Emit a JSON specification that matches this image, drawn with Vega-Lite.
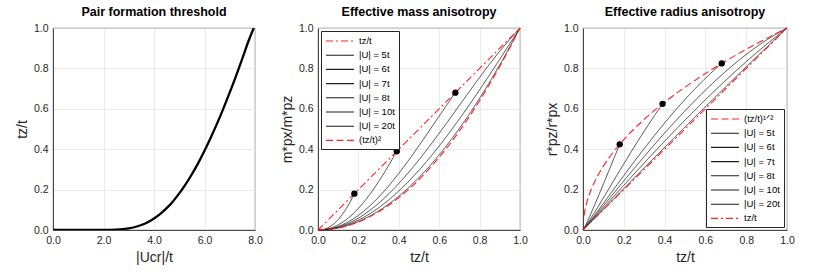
{
  "$schema": "https://vega.github.io/schema/vega-lite/v6.json",
  "padding": {"left": 15, "top": 5, "right": 3, "bottom": 5},
  "bounds": "flush",
  "spacing": 63,
  "config": {
    "font": "Liberation Sans",
    "view": {"stroke": "#262626", "strokeWidth": 0.8},
    "axis": {
      "grid": true, "gridColor": "#e4e4e4", "gridWidth": 0.8,
      "domainColor": "#262626", "domainWidth": 0.8, "ticks": false,
      "labelFont": "Liberation Sans", "labelFontSize": 10.5, "labelColor": "#262626", "labelPadding": 5, "labelFlush": false,
      "titleFont": "Liberation Sans", "titleFontSize": 14, "titleFontWeight": "normal", "titleColor": "#262626"
    },
    "axisX": {"titlePadding": 5},
    "axisY": {"titlePadding": 4},
    "legend": {
      "labelFont": "Liberation Sans", "labelFontSize": 9.5, "labelColor": "#000",
      "symbolType": "M-1,0H4.6", "symbolSize": 100, "symbolStrokeWidth": 1.1,
      "strokeColor": "#262626", "fillColor": "white", "padding": 4, "rowPadding": 3.2, "labelOffset": 22, "offset": 3, "cornerRadius": 0
    },
    "title": {"font": "Liberation Sans", "fontSize": 12.5, "fontWeight": "bold", "color": "#000", "offset": 5}
  },
  "datasets": {
    "thr": [
      {"U": 0, "tz": 0}, {"U": 0.5, "tz": 0}, {"U": 1.0, "tz": 0}, {"U": 1.5, "tz": 0}, {"U": 2.0, "tz": 0.0002},
      {"U": 2.5, "tz": 0.0018}, {"U": 3.0, "tz": 0.0082}, {"U": 3.25, "tz": 0.0149}, {"U": 3.5, "tz": 0.0248},
      {"U": 3.75, "tz": 0.0385}, {"U": 4.0, "tz": 0.0567}, {"U": 4.25, "tz": 0.0797}, {"U": 4.5, "tz": 0.108},
      {"U": 4.75, "tz": 0.1417}, {"U": 5.0, "tz": 0.181}, {"U": 5.25, "tz": 0.2256}, {"U": 5.5, "tz": 0.2758},
      {"U": 5.75, "tz": 0.3312}, {"U": 6.0, "tz": 0.392}, {"U": 6.25, "tz": 0.4575}, {"U": 6.5, "tz": 0.5278},
      {"U": 6.75, "tz": 0.6023}, {"U": 7.0, "tz": 0.681}, {"U": 7.25, "tz": 0.763}, {"U": 7.5, "tz": 0.8496},
      {"U": 7.75, "tz": 0.938}, {"U": 7.95, "tz": 1.0}
    ],
    "bref": [
      {"series": "1 tz/t", "tz": 0, "v": 0}, {"series": "1 tz/t", "tz": 0.5, "v": 0.5}, {"series": "1 tz/t", "tz": 1, "v": 1},
      {"series": "8 (tz/t)²", "tz": 0, "v": 0}, {"series": "8 (tz/t)²", "tz": 0.1, "v": 0.01},
      {"series": "8 (tz/t)²", "tz": 0.2, "v": 0.04}, {"series": "8 (tz/t)²", "tz": 0.3, "v": 0.09},
      {"series": "8 (tz/t)²", "tz": 0.4, "v": 0.16}, {"series": "8 (tz/t)²", "tz": 0.5, "v": 0.25},
      {"series": "8 (tz/t)²", "tz": 0.6, "v": 0.36}, {"series": "8 (tz/t)²", "tz": 0.7, "v": 0.49},
      {"series": "8 (tz/t)²", "tz": 0.8, "v": 0.64}, {"series": "8 (tz/t)²", "tz": 0.9, "v": 0.81},
      {"series": "8 (tz/t)²", "tz": 1, "v": 1}
    ],
    "bcurve": [
      {"series": "2 |U| = 5t", "tz": 0, "v": 0}, {"series": "2 |U| = 5t", "tz": 0.02, "v": 0.0015}, {"series": "2 |U| = 5t", "tz": 0.04, "v": 0.007},
      {"series": "2 |U| = 5t", "tz": 0.06, "v": 0.0171}, {"series": "2 |U| = 5t", "tz": 0.08, "v": 0.032}, {"series": "2 |U| = 5t", "tz": 0.1, "v": 0.0519},
      {"series": "2 |U| = 5t", "tz": 0.12, "v": 0.0767}, {"series": "2 |U| = 5t", "tz": 0.14, "v": 0.1064}, {"series": "2 |U| = 5t", "tz": 0.16, "v": 0.1409},
      {"series": "2 |U| = 5t", "tz": 0.18, "v": 0.18},
      {"series": "3 |U| = 6t", "tz": 0, "v": 0}, {"series": "3 |U| = 6t", "tz": 0.05, "v": 0.0058}, {"series": "3 |U| = 6t", "tz": 0.1, "v": 0.0254},
      {"series": "3 |U| = 6t", "tz": 0.15, "v": 0.0593}, {"series": "3 |U| = 6t", "tz": 0.2, "v": 0.1072}, {"series": "3 |U| = 6t", "tz": 0.25, "v": 0.1677},
      {"series": "3 |U| = 6t", "tz": 0.3, "v": 0.2393}, {"series": "3 |U| = 6t", "tz": 0.35, "v": 0.3202}, {"series": "3 |U| = 6t", "tz": 0.39, "v": 0.39},
      {"series": "4 |U| = 7t", "tz": 0, "v": 0}, {"series": "4 |U| = 7t", "tz": 0.05, "v": 0.0041}, {"series": "4 |U| = 7t", "tz": 0.1, "v": 0.0174},
      {"series": "4 |U| = 7t", "tz": 0.15, "v": 0.0404}, {"series": "4 |U| = 7t", "tz": 0.2, "v": 0.0726}, {"series": "4 |U| = 7t", "tz": 0.25, "v": 0.1136},
      {"series": "4 |U| = 7t", "tz": 0.3, "v": 0.1625}, {"series": "4 |U| = 7t", "tz": 0.35, "v": 0.2184}, {"series": "4 |U| = 7t", "tz": 0.4, "v": 0.2804},
      {"series": "4 |U| = 7t", "tz": 0.45, "v": 0.3472}, {"series": "4 |U| = 7t", "tz": 0.5, "v": 0.4176}, {"series": "4 |U| = 7t", "tz": 0.55, "v": 0.4903},
      {"series": "4 |U| = 7t", "tz": 0.6, "v": 0.564}, {"series": "4 |U| = 7t", "tz": 0.65, "v": 0.6371}, {"series": "4 |U| = 7t", "tz": 0.68, "v": 0.68},
      {"series": "5 |U| = 8t", "tz": 0, "v": 0}, {"series": "5 |U| = 8t", "tz": 0.05, "v": 0.0034}, {"series": "5 |U| = 8t", "tz": 0.1, "v": 0.0143},
      {"series": "5 |U| = 8t", "tz": 0.2, "v": 0.059}, {"series": "5 |U| = 8t", "tz": 0.3, "v": 0.1323}, {"series": "5 |U| = 8t", "tz": 0.4, "v": 0.2302},
      {"series": "5 |U| = 8t", "tz": 0.5, "v": 0.3477}, {"series": "5 |U| = 8t", "tz": 0.6, "v": 0.4789}, {"series": "5 |U| = 8t", "tz": 0.7, "v": 0.6171},
      {"series": "5 |U| = 8t", "tz": 0.8, "v": 0.7552}, {"series": "5 |U| = 8t", "tz": 0.9, "v": 0.8855}, {"series": "5 |U| = 8t", "tz": 1, "v": 1},
      {"series": "6 |U| = 10t", "tz": 0, "v": 0}, {"series": "6 |U| = 10t", "tz": 0.05, "v": 0.0029}, {"series": "6 |U| = 10t", "tz": 0.1, "v": 0.012},
      {"series": "6 |U| = 10t", "tz": 0.2, "v": 0.0489}, {"series": "6 |U| = 10t", "tz": 0.3, "v": 0.1099}, {"series": "6 |U| = 10t", "tz": 0.4, "v": 0.193},
      {"series": "6 |U| = 10t", "tz": 0.5, "v": 0.296}, {"series": "6 |U| = 10t", "tz": 0.6, "v": 0.4159}, {"series": "6 |U| = 10t", "tz": 0.7, "v": 0.5498},
      {"series": "6 |U| = 10t", "tz": 0.8, "v": 0.6942}, {"series": "6 |U| = 10t", "tz": 0.9, "v": 0.8455}, {"series": "6 |U| = 10t", "tz": 1, "v": 1},
      {"series": "7 |U| = 20t", "tz": 0, "v": 0}, {"series": "7 |U| = 20t", "tz": 0.05, "v": 0.0026}, {"series": "7 |U| = 20t", "tz": 0.1, "v": 0.0105},
      {"series": "7 |U| = 20t", "tz": 0.2, "v": 0.042}, {"series": "7 |U| = 20t", "tz": 0.3, "v": 0.0944}, {"series": "7 |U| = 20t", "tz": 0.4, "v": 0.1673},
      {"series": "7 |U| = 20t", "tz": 0.5, "v": 0.2602}, {"series": "7 |U| = 20t", "tz": 0.6, "v": 0.3724}, {"series": "7 |U| = 20t", "tz": 0.7, "v": 0.5033},
      {"series": "7 |U| = 20t", "tz": 0.8, "v": 0.652}, {"series": "7 |U| = 20t", "tz": 0.9, "v": 0.8179}, {"series": "7 |U| = 20t", "tz": 1, "v": 1}
    ],
    "bdots": [{"tz": 0.18, "v": 0.18}, {"tz": 0.39, "v": 0.39}, {"tz": 0.68, "v": 0.68}],
    "cref": [
      {"series": "8 tz/t", "tz": 0, "v": 0}, {"series": "8 tz/t", "tz": 0.5, "v": 0.5}, {"series": "8 tz/t", "tz": 1, "v": 1},
      {"series": "1 (tz/t)¹ᐟ²", "tz": 0.005, "v": 0.0707}, {"series": "1 (tz/t)¹ᐟ²", "tz": 0.01, "v": 0.1},
      {"series": "1 (tz/t)¹ᐟ²", "tz": 0.02, "v": 0.1414}, {"series": "1 (tz/t)¹ᐟ²", "tz": 0.03, "v": 0.1732},
      {"series": "1 (tz/t)¹ᐟ²", "tz": 0.05, "v": 0.2236}, {"series": "1 (tz/t)¹ᐟ²", "tz": 0.1, "v": 0.3162},
      {"series": "1 (tz/t)¹ᐟ²", "tz": 0.15, "v": 0.3873}, {"series": "1 (tz/t)¹ᐟ²", "tz": 0.2, "v": 0.4472},
      {"series": "1 (tz/t)¹ᐟ²", "tz": 0.3, "v": 0.5477}, {"series": "1 (tz/t)¹ᐟ²", "tz": 0.4, "v": 0.6325},
      {"series": "1 (tz/t)¹ᐟ²", "tz": 0.5, "v": 0.7071}, {"series": "1 (tz/t)¹ᐟ²", "tz": 0.6, "v": 0.7746},
      {"series": "1 (tz/t)¹ᐟ²", "tz": 0.7, "v": 0.8367}, {"series": "1 (tz/t)¹ᐟ²", "tz": 0.8, "v": 0.8944},
      {"series": "1 (tz/t)¹ᐟ²", "tz": 0.9, "v": 0.9487}, {"series": "1 (tz/t)¹ᐟ²", "tz": 1, "v": 1}
    ],
    "ccurve": [
      {"series": "2 |U| = 5t", "tz": 0, "v": 0}, {"series": "2 |U| = 5t", "tz": 0.02, "v": 0.0391}, {"series": "2 |U| = 5t", "tz": 0.04, "v": 0.0839},
      {"series": "2 |U| = 5t", "tz": 0.06, "v": 0.1308}, {"series": "2 |U| = 5t", "tz": 0.08, "v": 0.1789}, {"series": "2 |U| = 5t", "tz": 0.1, "v": 0.2279},
      {"series": "2 |U| = 5t", "tz": 0.12, "v": 0.277}, {"series": "2 |U| = 5t", "tz": 0.14, "v": 0.3262}, {"series": "2 |U| = 5t", "tz": 0.16, "v": 0.3754},
      {"series": "2 |U| = 5t", "tz": 0.18, "v": 0.4243},
      {"series": "3 |U| = 6t", "tz": 0, "v": 0}, {"series": "3 |U| = 6t", "tz": 0.05, "v": 0.0761}, {"series": "3 |U| = 6t", "tz": 0.1, "v": 0.1592},
      {"series": "3 |U| = 6t", "tz": 0.15, "v": 0.2436}, {"series": "3 |U| = 6t", "tz": 0.2, "v": 0.3274}, {"series": "3 |U| = 6t", "tz": 0.25, "v": 0.4095},
      {"series": "3 |U| = 6t", "tz": 0.3, "v": 0.4892}, {"series": "3 |U| = 6t", "tz": 0.35, "v": 0.5658}, {"series": "3 |U| = 6t", "tz": 0.39, "v": 0.6245},
      {"series": "4 |U| = 7t", "tz": 0, "v": 0}, {"series": "4 |U| = 7t", "tz": 0.05, "v": 0.064}, {"series": "4 |U| = 7t", "tz": 0.1, "v": 0.1321},
      {"series": "4 |U| = 7t", "tz": 0.15, "v": 0.201}, {"series": "4 |U| = 7t", "tz": 0.2, "v": 0.2694}, {"series": "4 |U| = 7t", "tz": 0.25, "v": 0.337},
      {"series": "4 |U| = 7t", "tz": 0.3, "v": 0.4031}, {"series": "4 |U| = 7t", "tz": 0.35, "v": 0.4673}, {"series": "4 |U| = 7t", "tz": 0.4, "v": 0.5295},
      {"series": "4 |U| = 7t", "tz": 0.45, "v": 0.5893}, {"series": "4 |U| = 7t", "tz": 0.5, "v": 0.6462}, {"series": "4 |U| = 7t", "tz": 0.55, "v": 0.7002},
      {"series": "4 |U| = 7t", "tz": 0.6, "v": 0.751}, {"series": "4 |U| = 7t", "tz": 0.65, "v": 0.7982}, {"series": "4 |U| = 7t", "tz": 0.68, "v": 0.8246},
      {"series": "5 |U| = 8t", "tz": 0, "v": 0}, {"series": "5 |U| = 8t", "tz": 0.05, "v": 0.0585}, {"series": "5 |U| = 8t", "tz": 0.1, "v": 0.1198},
      {"series": "5 |U| = 8t", "tz": 0.2, "v": 0.2429}, {"series": "5 |U| = 8t", "tz": 0.3, "v": 0.3637}, {"series": "5 |U| = 8t", "tz": 0.4, "v": 0.4798},
      {"series": "5 |U| = 8t", "tz": 0.5, "v": 0.5897}, {"series": "5 |U| = 8t", "tz": 0.6, "v": 0.692}, {"series": "5 |U| = 8t", "tz": 0.7, "v": 0.7856},
      {"series": "5 |U| = 8t", "tz": 0.8, "v": 0.869}, {"series": "5 |U| = 8t", "tz": 0.9, "v": 0.941}, {"series": "5 |U| = 8t", "tz": 1, "v": 1},
      {"series": "6 |U| = 10t", "tz": 0, "v": 0}, {"series": "6 |U| = 10t", "tz": 0.05, "v": 0.0542}, {"series": "6 |U| = 10t", "tz": 0.1, "v": 0.1097},
      {"series": "6 |U| = 10t", "tz": 0.2, "v": 0.2212}, {"series": "6 |U| = 10t", "tz": 0.3, "v": 0.3316}, {"series": "6 |U| = 10t", "tz": 0.4, "v": 0.4393},
      {"series": "6 |U| = 10t", "tz": 0.5, "v": 0.544}, {"series": "6 |U| = 10t", "tz": 0.6, "v": 0.6449}, {"series": "6 |U| = 10t", "tz": 0.7, "v": 0.7415},
      {"series": "6 |U| = 10t", "tz": 0.8, "v": 0.8332}, {"series": "6 |U| = 10t", "tz": 0.9, "v": 0.9195}, {"series": "6 |U| = 10t", "tz": 1, "v": 1},
      {"series": "7 |U| = 20t", "tz": 0, "v": 0}, {"series": "7 |U| = 20t", "tz": 0.05, "v": 0.051}, {"series": "7 |U| = 20t", "tz": 0.1, "v": 0.1022},
      {"series": "7 |U| = 20t", "tz": 0.2, "v": 0.2049}, {"series": "7 |U| = 20t", "tz": 0.3, "v": 0.3073}, {"series": "7 |U| = 20t", "tz": 0.4, "v": 0.409},
      {"series": "7 |U| = 20t", "tz": 0.5, "v": 0.5101}, {"series": "7 |U| = 20t", "tz": 0.6, "v": 0.6103}, {"series": "7 |U| = 20t", "tz": 0.7, "v": 0.7094},
      {"series": "7 |U| = 20t", "tz": 0.8, "v": 0.8075}, {"series": "7 |U| = 20t", "tz": 0.9, "v": 0.9044}, {"series": "7 |U| = 20t", "tz": 1, "v": 1}
    ],
    "cdots": [{"tz": 0.18, "v": 0.4243}, {"tz": 0.39, "v": 0.6245}, {"tz": 0.68, "v": 0.8246}]
  },
  "hconcat": [
    {
      "width": 202, "height": 202,
      "title": "Pair formation threshold",
      "layer": [
        {
          "data": {"name": "thr"},
          "mark": {"type": "line", "color": "#000", "strokeWidth": 2.3, "interpolate": "monotone", "clip": true},
          "encoding": {
            "x": {"field": "U", "type": "quantitative", "scale": {"domain": [0, 8], "nice": false}, "axis": {"values": [0, 2, 4, 6, 8], "format": ".1f", "title": "|Ucr|/t"}},
            "y": {"field": "tz", "type": "quantitative", "scale": {"domain": [0, 1], "nice": false}, "axis": {"values": [0, 0.2, 0.4, 0.6, 0.8, 1], "format": ".1f", "title": "tz/t"}}
          }
        },
        {
          "mark": {"type": "text", "fontSize": 14, "font": "Liberation Sans", "color": "#000"},
          "encoding": {"x": {"datum": 0.73}, "y": {"datum": 0.89}, "text": {"value": "(a)"}}
        },
        {
          "mark": {"type": "text", "fontSize": 11.5, "font": "Liberation Sans", "color": "#000"},
          "encoding": {"x": {"datum": 1.3}, "y": {"datum": 0.69}, "text": {"value": "No pairs"}}
        },
        {
          "mark": {"type": "text", "fontSize": 11.5, "font": "Liberation Sans", "color": "#000"},
          "encoding": {"x": {"datum": 7.0}, "y": {"datum": 0.24}, "text": {"value": "Pairs"}}
        }
      ]
    },
    {
      "width": 202, "height": 202,
      "title": "Effective mass anisotropy",
      "layer": [
        {
          "data": {"name": "bcurve"},
          "mark": {"type": "line", "strokeWidth": 0.8, "interpolate": "monotone"},
          "encoding": {
            "x": {"field": "tz", "type": "quantitative", "scale": {"domain": [0, 1], "nice": false}, "axis": {"values": [0, 0.2, 0.4, 0.6, 0.8, 1], "format": ".1f", "title": "tz/t"}},
            "y": {"field": "v", "type": "quantitative", "scale": {"domain": [0, 1], "nice": false}, "axis": {"values": [0, 0.2, 0.4, 0.6, 0.8, 1], "format": ".1f", "title": "m*px/m*pz"}},
            "color": {"field": "series", "type": "nominal", "scale": {"domain": ["1 tz/t", "2 |U| = 5t", "3 |U| = 6t", "4 |U| = 7t", "5 |U| = 8t", "6 |U| = 10t", "7 |U| = 20t", "8 (tz/t)²"], "range": ["#ff2020", "#1e1e1e", "#1e1e1e", "#1e1e1e", "#1e1e1e", "#1e1e1e", "#1e1e1e", "#ff2020"]}, "legend": {"orient": "top-left", "title": null, "labelExpr": "substring(datum.label, 2)"}},
            "strokeDash": {"field": "series", "type": "nominal", "scale": {"domain": ["1 tz/t", "2 |U| = 5t", "3 |U| = 6t", "4 |U| = 7t", "5 |U| = 8t", "6 |U| = 10t", "7 |U| = 20t", "8 (tz/t)²"], "range": [[7, 3, 2, 3], [1, 0], [1, 0], [1, 0], [1, 0], [1, 0], [1, 0], [7, 3.5]]}, "legend": {"orient": "top-left", "title": null, "labelExpr": "substring(datum.label, 2)"}}
          }
        },
        {
          "data": {"name": "bref"},
          "mark": {"type": "line", "strokeWidth": 1.1, "color": "#ff2020", "interpolate": "monotone"},
          "encoding": {
            "x": {"field": "tz", "type": "quantitative"},
            "y": {"field": "v", "type": "quantitative"},
            "strokeDash": {"field": "series", "type": "nominal"}
          }
        },
        {
          "data": {"name": "bdots"},
          "mark": {"type": "point", "filled": true, "color": "#000", "size": 40, "opacity": 1},
          "encoding": {"x": {"field": "tz", "type": "quantitative"}, "y": {"field": "v", "type": "quantitative"}}
        },
        {
          "mark": {"type": "text", "fontSize": 14, "font": "Liberation Sans", "color": "#000"},
          "encoding": {"x": {"datum": 0.483}, "y": {"datum": 0.896}, "text": {"value": "(b)"}}
        }
      ]
    },
    {
      "width": 204, "height": 202,
      "title": "Effective radius anisotropy",
      "layer": [
        {
          "data": {"name": "ccurve"},
          "mark": {"type": "line", "strokeWidth": 0.8, "interpolate": "monotone"},
          "encoding": {
            "x": {"field": "tz", "type": "quantitative", "scale": {"domain": [0, 1], "nice": false}, "axis": {"values": [0, 0.2, 0.4, 0.6, 0.8, 1], "format": ".1f", "title": "tz/t"}},
            "y": {"field": "v", "type": "quantitative", "scale": {"domain": [0, 1], "nice": false}, "axis": {"values": [0, 0.2, 0.4, 0.6, 0.8, 1], "format": ".1f", "title": "r*pz/r*px"}},
            "color": {"field": "series", "type": "nominal", "scale": {"domain": ["1 (tz/t)¹ᐟ²", "2 |U| = 5t", "3 |U| = 6t", "4 |U| = 7t", "5 |U| = 8t", "6 |U| = 10t", "7 |U| = 20t", "8 tz/t"], "range": ["#ff2020", "#1e1e1e", "#1e1e1e", "#1e1e1e", "#1e1e1e", "#1e1e1e", "#1e1e1e", "#ff2020"]}, "legend": {"orient": "bottom-right", "title": null, "labelExpr": "substring(datum.label, 2)"}},
            "strokeDash": {"field": "series", "type": "nominal", "scale": {"domain": ["1 (tz/t)¹ᐟ²", "2 |U| = 5t", "3 |U| = 6t", "4 |U| = 7t", "5 |U| = 8t", "6 |U| = 10t", "7 |U| = 20t", "8 tz/t"], "range": [[7, 3.5], [1, 0], [1, 0], [1, 0], [1, 0], [1, 0], [1, 0], [7, 3, 2, 3]]}, "legend": {"orient": "bottom-right", "title": null, "labelExpr": "substring(datum.label, 2)"}}
          }
        },
        {
          "data": {"name": "cref"},
          "mark": {"type": "line", "strokeWidth": 1.1, "color": "#ff2020", "interpolate": "monotone"},
          "encoding": {
            "x": {"field": "tz", "type": "quantitative"},
            "y": {"field": "v", "type": "quantitative"},
            "strokeDash": {"field": "series", "type": "nominal"}
          }
        },
        {
          "data": {"name": "cdots"},
          "mark": {"type": "point", "filled": true, "color": "#000", "size": 40, "opacity": 1},
          "encoding": {"x": {"field": "tz", "type": "quantitative"}, "y": {"field": "v", "type": "quantitative"}}
        },
        {
          "mark": {"type": "text", "fontSize": 14, "font": "Liberation Sans", "color": "#000"},
          "encoding": {"x": {"datum": 0.103}, "y": {"datum": 0.896}, "text": {"value": "(c)"}}
        }
      ]
    }
  ],
  "resolve": {
    "scale": {"x": "independent", "y": "independent", "color": "independent", "strokeDash": "independent"},
    "legend": {"color": "independent", "strokeDash": "independent"}
  }
}
